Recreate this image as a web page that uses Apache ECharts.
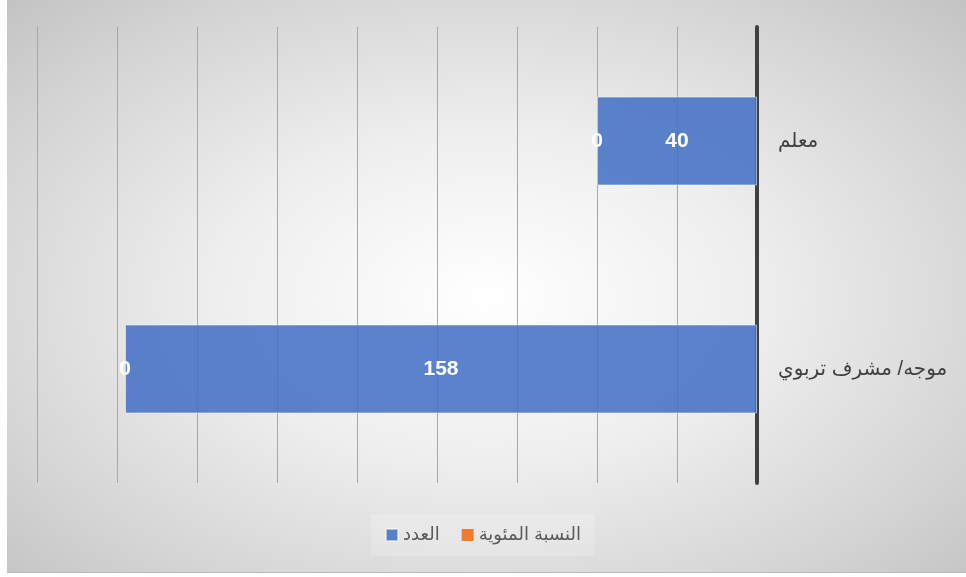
<!DOCTYPE html>
<html>
<head>
<meta charset="utf-8">
<script src="https://cdn.jsdelivr.net/npm/echarts@6/dist/echarts.min.js"></script>
<style>
  html, body { margin: 0; padding: 0; background: #ffffff; }
  #bg {
    position: absolute; left: 7px; top: 0; width: 959px; height: 572px;
    background: radial-gradient(ellipse farthest-corner at 50% 52%, #ffffff 0%, #eeeeee 40%, #d4d4d4 78%, #c3c3c3 100%);
    border-bottom: 1px solid #b8b8b8;
  }
  #chart { position: absolute; left: 0; top: 0; width: 966px; height: 577px; }
</style>
</head>
<body>
<div id="bg"></div>
<div id="chart"></div>
<script>
const categories = ['معلم', 'موجه/ مشرف تربوي'];
const countValues = [40, 158];
const percentValues = [0, 0];
const seriesNames = ['العدد', 'النسبة المئوية'];
const axisMax = 180;
const axisInterval = 20;

const chart = echarts.init(document.getElementById('chart'));
const labelFont = 'Liberation Sans, Arial, sans-serif';
chart.setOption({
  backgroundColor: 'transparent',
  animation: false,
  grid: { left: 37, right: 209, top: 27, bottom: 94, containLabel: false },
  legend: {
    data: seriesNames,
    top: 514,
    left: 'center',
    icon: 'rect',
    itemWidth: 12,
    itemHeight: 12,
    itemGap: 22,
    backgroundColor: 'rgba(255,255,255,0.18)',
    padding: [12, 14],
    textStyle: { fontSize: 18, color: '#595959', fontFamily: 'Arial, DejaVu Sans, sans-serif' }
  },
  xAxis: {
    type: 'value',
    inverse: true,
    min: 0,
    max: axisMax,
    interval: axisInterval,
    axisLabel: { show: false },
    axisLine: { show: false },
    axisTick: { show: false },
    splitLine: { show: true, lineStyle: { color: '#a8a8a8', width: 1 } }
  },
  yAxis: {
    type: 'category',
    data: categories,
    inverse: true,
    position: 'right',
    axisLine: { show: true, onZero: false, lineStyle: { color: '#404040', width: 4 } },
    axisTick: { show: false },
    axisLabel: { margin: 21, fontSize: 20, color: '#404040', fontFamily: 'Arial, DejaVu Sans, sans-serif' }
  },
  series: [
    {
      name: seriesNames[0],
      type: 'bar',
      stack: 'total',
      data: countValues,
      barWidth: '39%',
      itemStyle: { color: 'rgba(68,114,196,0.88)', borderColor: 'rgba(255,255,255,0.5)', borderWidth: 1 },
      label: { show: true, position: 'inside', color: '#ffffff', fontWeight: 'bold', fontSize: 21, fontFamily: labelFont }
    },
    {
      name: seriesNames[1],
      type: 'bar',
      stack: 'total',
      data: percentValues,
      barWidth: '39%',
      itemStyle: { color: '#ED7D31' },
      label: { show: true, position: 'inside', color: '#ffffff', fontWeight: 'bold', fontSize: 21, fontFamily: labelFont }
    }
  ]
});
</script>
</body>
</html>
